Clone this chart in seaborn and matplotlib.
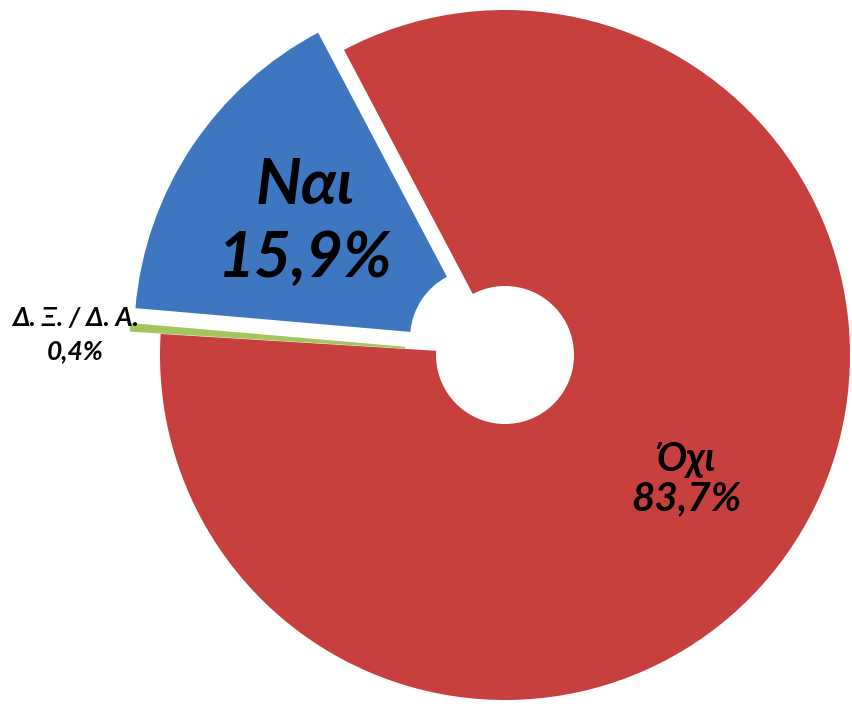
"""Donut chart: Ναι / Όχι / Δ. Ξ. / Δ. Α. answer shares."""

import matplotlib

matplotlib.use("Agg")

import matplotlib.pyplot as plt
import seaborn as sns


labels = ["Όχι", "Ναι", "Δ. Ξ. / Δ. Α."]
shares = [83.7, 15.9, 0.4]
pct_text = ["83,7%", "15,9%", "0,4%"]
colors = ["#c8403d", "#3e76c0", "#a4c45e"]
explode = [0.0, 0.09, 0.09]

sns.set_theme(style="white")
plt.rcParams["font.family"] = ["Lato", "DejaVu Sans"]

fig = plt.figure(figsize=(8.52, 7.08), dpi=100)
ax = fig.add_axes([0, 0, 1, 1])

ax.pie(
    shares,
    colors=colors,
    explode=explode,
    startangle=176.5,
    counterclock=True,
    wedgeprops={"width": 0.8, "linewidth": 0},
)

# axis limits chosen so that 1 data unit ~ 345 px, hole centre at (505, 355) px
ax.set_xlim(-505 / 345, (852 - 505) / 345)
ax.set_ylim(-(708 - 355) / 345, 355 / 345)
ax.set_aspect("auto")
ax.axis("off")

text_kw = dict(ha="center", va="center", fontweight="bold", fontstyle="italic", color="black")
ax.text(0.525, -0.36, f"{labels[0]}\n{pct_text[0]}", fontsize=29, linespacing=1.1, **text_kw)
ax.text(-0.58, 0.385, f"{labels[1]}\n{pct_text[1]}", fontsize=46, linespacing=1.35, **text_kw)
ax.text(-1.245, 0.06, f"{labels[2]}\n{pct_text[2]}", fontsize=19, linespacing=1.45, **text_kw)

fig.savefig("out.png", dpi=100)
plt.close(fig)
